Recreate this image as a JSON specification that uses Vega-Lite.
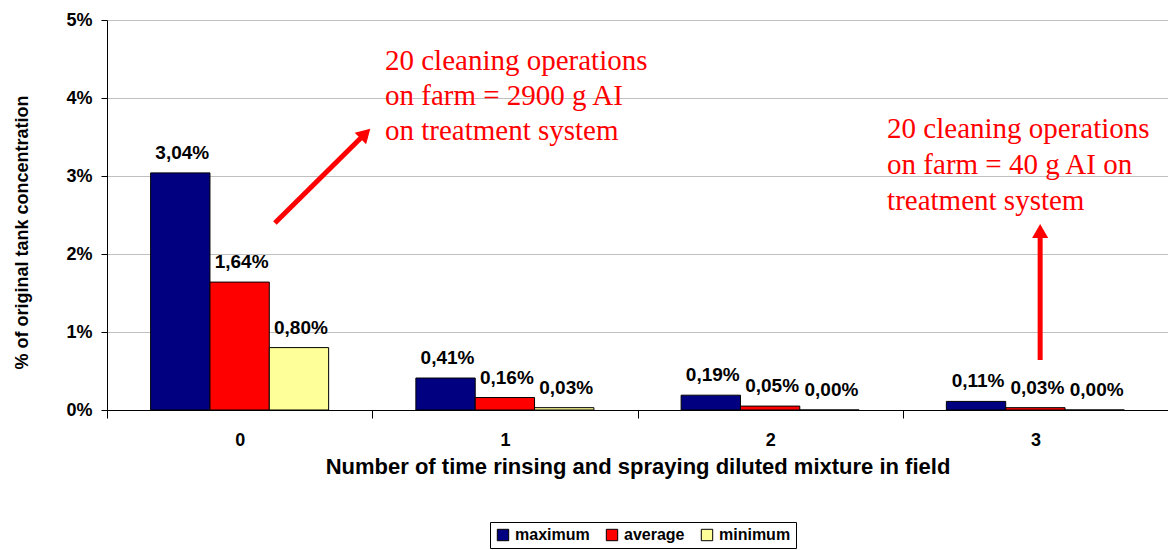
{
  "$schema": "https://vega.github.io/schema/vega-lite/v6.json",
  "width": 1061,
  "height": 390,
  "autosize": {"type": "none"},
  "padding": {"left": 107, "top": 20, "right": 0, "bottom": 140},
  "config": {
    "locale": {"number": {"decimal": ",", "thousands": ".", "grouping": [3], "currency": ["", " €"]}},
    "view": {"stroke": null},
    "font": "Liberation Sans"
  },
  "datasets": {
    "bars": [
      {"rinses": "0", "series": "maximum", "value": 0.0304},
      {"rinses": "0", "series": "average", "value": 0.0164},
      {"rinses": "0", "series": "minimum", "value": 0.0080},
      {"rinses": "1", "series": "maximum", "value": 0.0041},
      {"rinses": "1", "series": "average", "value": 0.0016},
      {"rinses": "1", "series": "minimum", "value": 0.0003},
      {"rinses": "2", "series": "maximum", "value": 0.0019},
      {"rinses": "2", "series": "average", "value": 0.0005},
      {"rinses": "2", "series": "minimum", "value": 0.0000},
      {"rinses": "3", "series": "maximum", "value": 0.0011},
      {"rinses": "3", "series": "average", "value": 0.0003},
      {"rinses": "3", "series": "minimum", "value": 0.0000}
    ],
    "arrows": [
      {"arrow": "first", "x": 0.633, "y": 0.02397, "x2": 0.974, "y2": 0.03544},
      {"arrow": "second", "x": 3.518, "y": 0.00641, "x2": 3.518, "y2": 0.02295}
    ],
    "notes": [
      {"note": "first", "line": 1, "x": 1.048, "y": 0.04359, "text": "20 cleaning operations"},
      {"note": "first", "line": 2, "x": 1.048, "y": 0.0391, "text": "on farm = 2900 g AI"},
      {"note": "first", "line": 3, "x": 1.048, "y": 0.03462, "text": "on treatment system"},
      {"note": "second", "line": 1, "x": 2.941, "y": 0.03487, "text": "20 cleaning operations"},
      {"note": "second", "line": 2, "x": 2.941, "y": 0.03026, "text": "on farm = 40 g AI on"},
      {"note": "second", "line": 3, "x": 2.941, "y": 0.02564, "text": "treatment system"}
    ]
  },
  "layer": [
    {
      "data": {"name": "bars"},
      "encoding": {
        "x": {
          "field": "rinses",
          "type": "nominal",
          "scale": {"paddingInner": 0, "paddingOuter": 0},
          "axis": {
            "title": "Number of time rinsing and spraying diluted mixture in field",
            "labelAngle": 0,
            "labelFont": "Liberation Sans",
            "labelFontWeight": "bold",
            "labelFontSize": 18,
            "labelColor": "black",
            "labelPadding": 13,
            "tickBand": "extent",
            "tickSize": 8,
            "tickColor": "black",
            "domainColor": "black",
            "titleFont": "Liberation Sans",
            "titleFontWeight": "bold",
            "titleFontSize": 22,
            "titleColor": "black",
            "titlePadding": 7
          }
        },
        "xOffset": {
          "field": "series",
          "type": "nominal",
          "sort": ["maximum", "average", "minimum"],
          "scale": {"paddingInner": 0, "paddingOuter": 0.735}
        },
        "y": {
          "field": "value",
          "type": "quantitative",
          "scale": {"domain": [0, 0.05], "nice": false},
          "axis": {
            "title": "% of original tank concentration",
            "format": ".0%",
            "values": [0, 0.01, 0.02, 0.03, 0.04, 0.05],
            "labelFont": "Liberation Sans",
            "labelFontWeight": "bold",
            "labelFontSize": 18,
            "labelColor": "black",
            "labelPadding": 9,
            "tickSize": 6,
            "tickColor": "black",
            "domainColor": "black",
            "gridColor": "#c0c0c0",
            "gridWidth": 1,
            "titleFont": "Liberation Sans",
            "titleFontWeight": "bold",
            "titleFontSize": 18,
            "titleColor": "black",
            "titlePadding": 34,
            "titleY": 212
          }
        }
      },
      "layer": [
        {
          "mark": {"type": "bar", "stroke": "black", "strokeWidth": 1},
          "encoding": {
            "color": {
              "field": "series",
              "type": "nominal",
              "sort": ["maximum", "average", "minimum"],
              "scale": {"domain": ["maximum", "average", "minimum"], "range": ["#000080", "#ff0000", "#ffff99"]},
              "legend": {
                "title": null,
                "orient": "none",
                "legendX": 383,
                "legendY": 502,
                "direction": "horizontal",
                "symbolType": "square",
                "symbolSize": 130,
                "symbolStrokeColor": "black",
                "symbolStrokeWidth": 1,
                "labelFont": "Liberation Sans",
                "labelFontWeight": "bold",
                "labelFontSize": 16,
                "labelColor": "black",
                "strokeColor": "black",
                "padding": 5,
                "columnPadding": 14
              }
            }
          }
        },
        {
          "mark": {"type": "text", "font": "Liberation Sans", "fontWeight": "bold", "fontSize": 19, "baseline": "alphabetic", "dy": -14, "dx": 2, "color": "black"},
          "encoding": {
            "text": {"field": "value", "type": "quantitative", "format": ".2%"}
          }
        }
      ]
    },
    {
      "layer": [
        {
          "data": {"name": "arrows"},
          "mark": {"type": "rule", "color": "#ff0000", "strokeWidth": 5},
          "encoding": {
            "x": {"field": "x", "type": "quantitative", "scale": {"domain": [0, 4], "nice": false, "zero": false}, "axis": null},
            "y": {"field": "y", "type": "quantitative"},
            "x2": {"field": "x2"},
            "y2": {"field": "y2"}
          }
        },
        {
          "data": {"name": "arrows"},
          "transform": [{"filter": "datum.arrow == 'first'"}],
          "mark": {"type": "point", "shape": "triangle-up", "filled": true, "color": "#ff0000", "size": 260, "angle": 45, "opacity": 1},
          "encoding": {
            "x": {"field": "x2", "type": "quantitative", "axis": null},
            "y": {"field": "y2", "type": "quantitative"}
          }
        },
        {
          "data": {"name": "arrows"},
          "transform": [{"filter": "datum.arrow == 'second'"}],
          "mark": {"type": "point", "shape": "triangle-up", "filled": true, "color": "#ff0000", "size": 260, "angle": 0, "opacity": 1},
          "encoding": {
            "x": {"field": "x2", "type": "quantitative", "axis": null},
            "y": {"field": "y2", "type": "quantitative"}
          }
        },
        {
          "data": {"name": "notes"},
          "mark": {"type": "text", "font": "Liberation Serif", "fontSize": 29, "align": "left", "baseline": "alphabetic", "color": "#ff0000"},
          "encoding": {
            "x": {"field": "x", "type": "quantitative", "axis": null},
            "y": {"field": "y", "type": "quantitative"},
            "text": {"field": "text"}
          }
        }
      ]
    }
  ],
  "resolve": {"scale": {"x": "independent"}}
}
